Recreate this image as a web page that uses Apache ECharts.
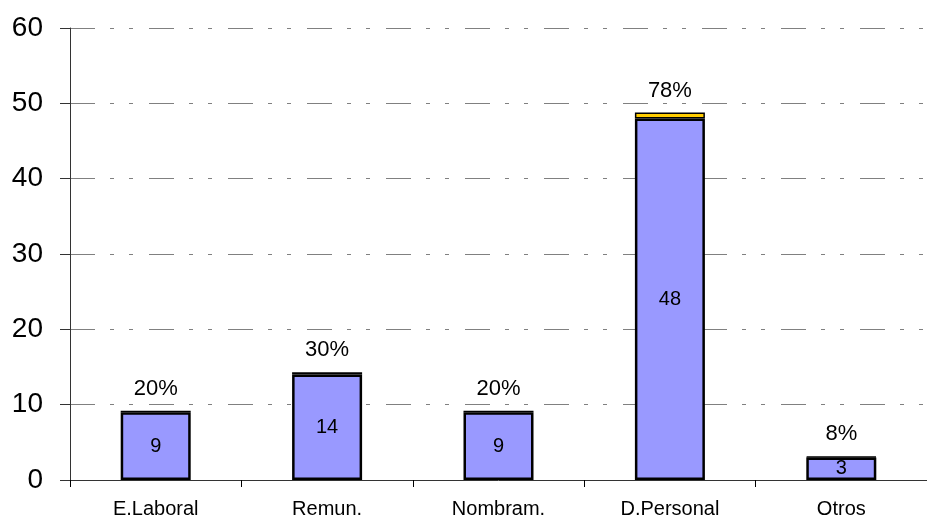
<!DOCTYPE html>
<html>
<head>
<meta charset="utf-8">
<script src="https://cdn.jsdelivr.net/npm/echarts@6/dist/echarts.min.js"></script>
<style>
    html, body { margin: 0; padding: 0; background: #fff; }
    #chart { width: 927px; height: 523px; }
</style>
</head>
<body>
<div id="chart"></div>
<script>
// datos del grafico
var categorias = ['E.Laboral', 'Remun.', 'Nombram.', 'D.Personal', 'Otros'];
var cantidades = [9, 14, 9, 48, 3];
var porcentajes = [20, 30, 20, 78, 8];
var ejeY = [0, 10, 20, 30, 40, 50, 60];

window.onload = function () {
    chartShow();
}

function chartShow() {
    var myChart = echarts.init(document.getElementById('chart'));

    // la parte de arriba es el porcentaje dividido por 100
    var topes = porcentajes.map(function (p) { return p / 100; });

    var option = {
        animation: false,
        backgroundColor: '#ffffff',
        textStyle: { fontFamily: 'Liberation Sans, Arial, sans-serif' },
        grid: { left: 70, top: 28, width: 870, height: 452 },
        xAxis: {
            type: 'category',
            data: categorias,
            axisLine: { lineStyle: { color: '#333', width: 1 } },
            axisTick: { show: true, length: 7, lineStyle: { color: '#000' } },
            axisLabel: { color: '#000', fontSize: 20, margin: 19 }
        },
        yAxis: {
            type: 'value',
            min: ejeY[0],
            max: ejeY[ejeY.length - 1],
            interval: 10,
            axisLine: { show: true, lineStyle: { color: '#333', width: 1 } },
            axisTick: { show: true, length: 10, lineStyle: { color: '#333' } },
            axisLabel: { color: '#000', fontSize: 28, margin: 27 },
            splitLine: {
                show: true,
                lineStyle: { color: '#808080', width: 1, type: [25, 15, 4, 15, 4, 16] }
            }
        },
        series: [{
            name: 'cantidad',
            type: 'bar',
            stack: 'total',
            barWidth: 70,
            data: cantidades,
            itemStyle: { color: '#9999FF', borderColor: '#000', borderWidth: 2.5 },
            label: { show: true, position: 'inside', color: '#000', fontSize: 20 }
        }, {
            name: 'porcentaje',
            type: 'bar',
            stack: 'total',
            barWidth: 70,
            data: topes,
            itemStyle: { color: '#FFCC00', borderColor: '#000', borderWidth: 1.5 },
            label: {
                show: true,
                position: 'top',
                distance: 11,
                color: '#000',
                fontSize: 22,
                formatter: function (p) { return porcentajes[p.dataIndex] + '%'; }
            }
        }]
    };

    myChart.setOption(option);
}
</script>
</body>
</html>
